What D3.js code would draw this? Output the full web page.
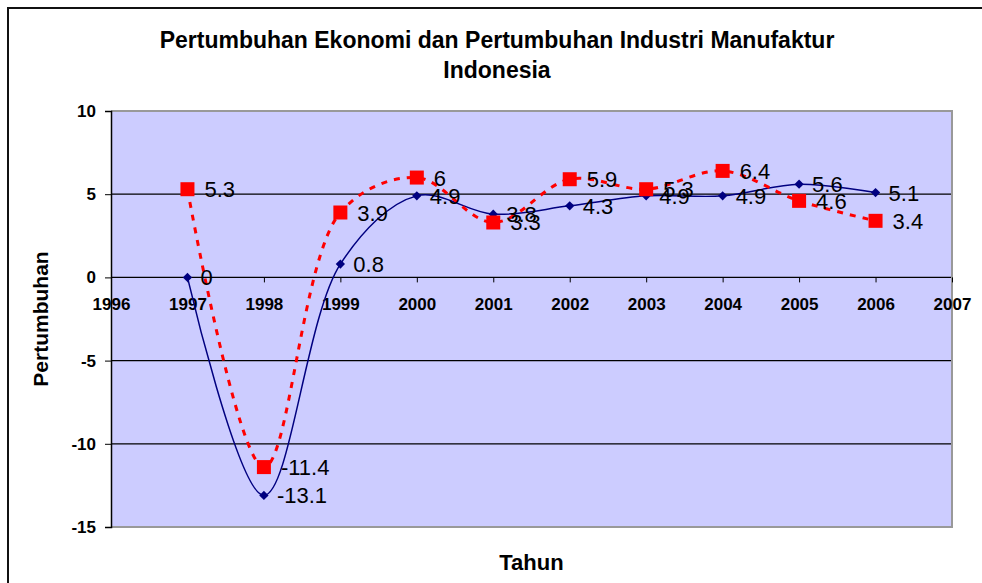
<!DOCTYPE html>
<html>
<head>
<meta charset="utf-8">
<script src="https://cdn.jsdelivr.net/npm/d3@7"></script>
<style>
  body { margin: 0; background: #fff; }
  text { font-family: "Liberation Sans", Arial, sans-serif; }
</style>
</head>
<body>
<svg id="chart"></svg>
<script>
var years = [1997, 1998, 1999, 2000, 2001, 2002, 2003, 2004, 2005, 2006];
var ekonomi = [0, -13.1, 0.8, 4.9, 3.8, 4.3, 4.9, 4.9, 5.6, 5.1];
var industri = [5.3, -11.4, 3.9, 6, 3.3, 5.9, 5.3, 6.4, 4.6, 3.4];
var xTicks = [1996, 1997, 1998, 1999, 2000, 2001, 2002, 2003, 2004, 2005, 2006, 2007];
var yTicks = [-15, -10, -5, 0, 5, 10];

var W = 982, H = 583;
var margin = {top: 111, right: 30, bottom: 56, left: 111}
  , width = 952 - margin.left
  , height = 527 - margin.top;

var svg = d3.select("#chart").attr("width", W).attr("height", H);

// outer frame
svg.append("rect")
    .attr("x", 8).attr("y", 8)
    .attr("width", 1000).attr("height", 600)
    .attr("fill", "#fff").attr("stroke", "#111").attr("stroke-width", 2);

var g = svg.append("g")
    .attr("transform", "translate(" + margin.left + "," + margin.top + ")");

var xScale = d3.scaleLinear().domain([1996, 2007]).range([0, width]);
var yScale = d3.scaleLinear().domain([-15, 10]).range([height, 0]);

// plot area
g.append("rect")
    .attr("width", width).attr("height", height)
    .attr("fill", "#CCCCFF");

// grid lines
g.selectAll("line.grid")
    .data(yTicks.filter(function(d){ return d > -15 && d < 10; }))
    .enter().append("line")
    .attr("class", "grid")
    .attr("x1", 0).attr("x2", width)
    .attr("y1", function(d){ return yScale(d); })
    .attr("y2", function(d){ return yScale(d); })
    .attr("stroke", "#000").attr("stroke-width", 1.2);

// plot border (top, right, bottom grey)
g.append("path")
    .attr("d", "M0," + height + "H" + width + "V0H0")
    .attr("fill", "none").attr("stroke", "#999").attr("stroke-width", 2);

// y axis
var yAxis = g.append("g")
    .call(d3.axisLeft(yScale).tickValues(yTicks).tickFormat(function(d){ return String(d); })
        .tickSize(6).tickPadding(9));
yAxis.select(".domain").attr("stroke", "#000").attr("stroke-width", 1.5);
yAxis.selectAll("text")
    .style("font-family", "'Liberation Sans', Arial, sans-serif")
    .style("font-size", "17px").style("font-weight", "bold").attr("fill", "#000");

// x axis at zero
var xAxis = g.append("g")
    .attr("transform", "translate(0," + yScale(0) + ")")
    .call(d3.axisBottom(xScale).tickValues(xTicks).tickFormat(function(d){ return String(d); })
        .tickSize(5).tickPadding(16));
xAxis.select(".domain").remove();
xAxis.selectAll("text")
    .style("font-family", "'Liberation Sans', Arial, sans-serif")
    .style("font-size", "17px").style("font-weight", "bold").attr("fill", "#000");

var curve = d3.curveCatmullRom.alpha(0.5);

function seriesData(vals){
    return years.map(function(y, i){ return {x: y, v: vals[i]}; });
}

var line = d3.line()
    .x(function(d){ return xScale(d.x); })
    .y(function(d){ return yScale(d.v); })
    .curve(curve);

// blue series
var blue = seriesData(ekonomi);
g.append("path").datum(blue)
    .attr("d", line)
    .attr("fill", "none").attr("stroke", "#000080").attr("stroke-width", 1.5);
g.selectAll("path.diamond").data(blue).enter().append("path")
    .attr("class", "diamond")
    .attr("d", d3.symbol().type(d3.symbolDiamond2).size(55))
    .attr("transform", function(d){ return "translate(" + xScale(d.x) + "," + yScale(d.v) + ")"; })
    .attr("fill", "#000080");

// red series
var red = seriesData(industri);
g.append("path").datum(red)
    .attr("d", line)
    .attr("fill", "none").attr("stroke", "#FF0000").attr("stroke-width", 3)
    .attr("stroke-dasharray", "6,7");
g.selectAll("rect.sq").data(red).enter().append("rect")
    .attr("class", "sq")
    .attr("x", function(d){ return xScale(d.x) - 7; })
    .attr("y", function(d){ return yScale(d.v) - 7; })
    .attr("width", 14).attr("height", 14)
    .attr("fill", "#FF0000");

// value labels
g.selectAll("text.lb").data(blue).enter().append("text")
    .attr("class", "lb")
    .attr("x", function(d){ return xScale(d.x) + 13; })
    .attr("y", function(d){ return yScale(d.v) + 8; })
    .style("font-size", "22px").attr("fill", "#000")
    .text(function(d){ return d.v; });
g.selectAll("text.lr").data(red).enter().append("text")
    .attr("class", "lr")
    .attr("x", function(d){ return xScale(d.x) + 17; })
    .attr("y", function(d){ return yScale(d.v) + 8; })
    .style("font-size", "22px").attr("fill", "#000")
    .text(function(d){ return d.v; });

// titles
var title = svg.append("text")
    .attr("x", 497).attr("y", 48)
    .attr("text-anchor", "middle")
    .style("font-size", "23px").style("font-weight", "bold");
title.append("tspan").attr("x", 497).text("Pertumbuhan Ekonomi dan Pertumbuhan Industri Manufaktur");
title.append("tspan").attr("x", 497).attr("dy", 30).text("Indonesia");

svg.append("text")
    .attr("x", margin.left + width / 2).attr("y", 570)
    .attr("text-anchor", "middle")
    .style("font-size", "22px").style("font-weight", "bold")
    .text("Tahun");

svg.append("text")
    .attr("transform", "translate(48," + (margin.top + height / 2) + ") rotate(-90)")
    .attr("text-anchor", "middle")
    .style("font-size", "21px").style("font-weight", "bold")
    .text("Pertumbuhan");
</script>
</body>
</html>
